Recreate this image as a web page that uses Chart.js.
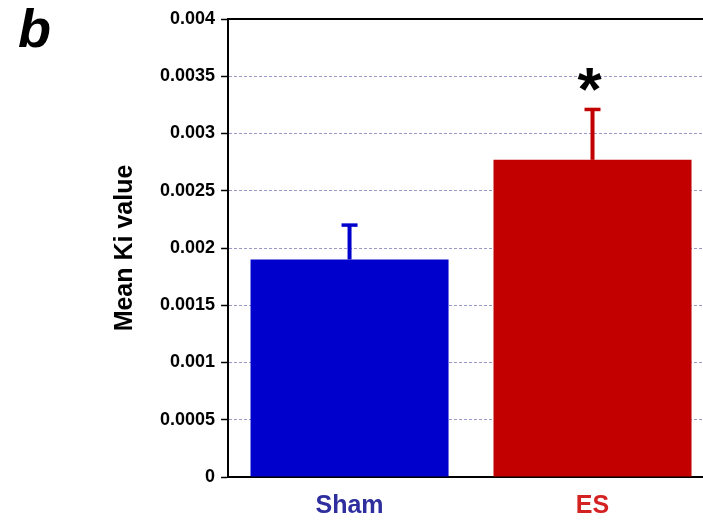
<!DOCTYPE html>
<html>
<head>
<meta charset="utf-8">
<script src="https://cdn.jsdelivr.net/npm/chart.js@4"></script>
<style>
  html, body { margin:0; padding:0; background:#fff; overflow:hidden; width:703px; height:523px; }
  #wrap { position:relative; width:703px; height:523px; overflow:hidden; }
  #panel { position:absolute; left:18px; top:-3px; font:italic bold 54px "Liberation Sans", Arial, sans-serif; color:#000; }
  canvas { position:absolute; left:0; top:0; }
</style>
</head>
<body>
<div id="wrap">
  <canvas id="c" width="718" height="523" style="width:718px;height:523px"></canvas>
  <div id="panel">b</div>
</div>
<script>
/* data */
const groups    = ['Sham', 'ES'];
const meanKi    = [0.0019, 0.00277];
const errUp     = [0.0003, 0.00044];   // SEM, drawn upward only
const signif    = ['', '*'];
const barColors = ['#0000cc', '#c20000'];
const lblColors = ['#2e2e9e', '#d42222'];

const font = 'Liberation Sans, Arial, sans-serif';

/* -------- error bars + asterisk + top frame -------- */
const extras = {
  id: 'extras',
  afterDatasetsDraw(chart) {
    const { ctx, chartArea: a, scales: { y } } = chart;
    const meta = chart.getDatasetMeta(0);
    ctx.save();
    // top frame line
    ctx.strokeStyle = '#000';
    ctx.lineWidth = 2;
    ctx.beginPath();
    ctx.moveTo(a.left, a.top);
    ctx.lineTo(a.right, a.top);
    ctx.stroke();

    meta.data.forEach((bar, i) => {
      const cx  = bar.x;
      const yT  = y.getPixelForValue(meanKi[i]);
      const yE  = y.getPixelForValue(meanKi[i] + errUp[i]);
      ctx.strokeStyle = barColors[i];
      ctx.lineWidth = 4;
      ctx.beginPath();
      ctx.moveTo(cx, yT);
      ctx.lineTo(cx, yE);
      ctx.stroke();
      ctx.lineWidth = 3.5;
      ctx.beginPath();
      ctx.moveTo(cx - 8, yE);
      ctx.lineTo(cx + 8, yE);
      ctx.stroke();
      if (signif[i]) {
        ctx.fillStyle = '#000';
        ctx.font = `bold 62px ${font}`;
        ctx.textAlign = 'center';
        ctx.textBaseline = 'alphabetic';
        const m = ctx.measureText(signif[i]);
        const cy = yE - 30;
        ctx.fillText(signif[i], cx - 3, cy + (m.actualBoundingBoxAscent - m.actualBoundingBoxDescent) / 2);
      }
    });
    ctx.restore();
  }
};

new Chart(document.getElementById('c'), {
  type: 'bar',
  data: {
    labels: groups,
    datasets: [{
      data: meanKi,
      backgroundColor: barColors,
      borderWidth: 0,
      categoryPercentage: 0.815,
      barPercentage: 1.0,
    }]
  },
  options: {
    responsive: false,
    animation: false,
    layout: { padding: { left: 100, top: 19, right: 4, bottom: -12 } },
    plugins: { legend: { display: false }, tooltip: { enabled: false } },
    scales: {
      x: {
        grid: { display: false, drawTicks: false },
        border: { color: '#000', width: 2 },
        ticks: {
          padding: 14,
          font: { family: font, size: 25, weight: 'bold' },
          color: ctx => lblColors[ctx.index],
        },
      },
      y: {
        min: 0, max: 0.004,
        grid: {
          color: ctx => ctx.tick && ctx.tick.value === 0.004 ? 'rgba(0,0,0,0)' : '#9a9ac8',
          lineWidth: 1,
          tickColor: '#000',
          tickLength: 7,
          tickWidth: 1.5,
        },
        border: { color: '#000', width: 2, dash: [3, 2] },
        ticks: {
          stepSize: 0.0005,
          padding: 6,
          color: '#000',
          font: { family: font, size: 18, weight: 'bold' },
          callback: v => v === 0 ? '0' : String(+v.toFixed(4)),
        },
        title: {
          display: true,
          text: 'Mean Ki value',
          color: '#000',
          font: { family: font, size: 25, weight: 'bold' },
          padding: { top: 10, bottom: 14 },
        },
      },
    },
  },
  plugins: [extras],
});
</script>
</body>
</html>
